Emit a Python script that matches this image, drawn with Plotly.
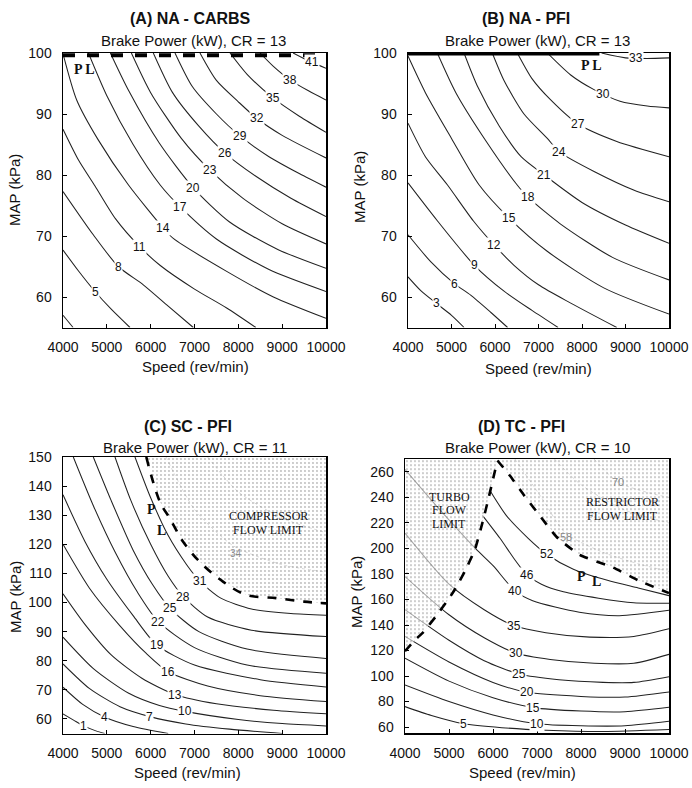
import plotly.graph_objects as go

W, H = 692, 788

# ------------------------- shared axis values -------------------------
SPEED_TICKS = [4000, 5000, 6000, 7000, 8000, 9000, 10000]
SPEED_TICK_TEXT = ["4000", "5000", "6000", "7000", "8000", "9000", "10000"]

# ------------------------- Panel A : NA - CARBS -------------------------
A_levels = [2, 5, 8, 11, 14, 17, 20, 23, 26, 29, 32, 35, 38, 41]
A_line_x = [
    [4000, 4230],
    [4000, 4350, 4730, 5100, 5528],
    [4000, 4691, 5261, 5832, 6400, 6973],
    [4000, 4350, 4730, 5200, 5756, 6212, 7000, 7734, 8400],
    [4007, 4312, 4800, 5490, 6288, 6516, 7734, 8800, 10000],
    [4580, 5000, 5600, 6213, 6669, 7500, 8700, 10000],
    [5080, 5500, 6200, 6972, 7800, 8900, 10000],
    [5560, 6000, 6700, 7353, 8100, 9000, 10000],
    [6060, 6500, 7100, 7695, 8400, 9200, 10000],
    [6555, 6950, 7500, 8037, 8700, 9400, 10000],
    [7125, 7500, 8000, 8418, 9000, 10000],
    [7810, 8200, 8797, 9400, 10000],
    [8494, 8800, 9178, 9600, 10000],
    [9250, 9634, 10000],
]
A_line_y = [
    [57.0, 55.0],
    [67.7, 64.3, 60.9, 58.0, 55.0],
    [77.3, 70.2, 65.0, 62.0, 58.5, 55.0],
    [87.5, 82.5, 78.2, 72.8, 68.2, 65.2, 61.3, 58.2, 55.0],
    [99.7, 92.3, 85.8, 78.4, 71.3, 69.6, 64.2, 60.0, 56.5],
    [100, 93.0, 85.0, 78.4, 74.8, 69.5, 64.5, 60.9],
    [100, 93.8, 85.2, 77.9, 72.3, 67.8, 64.7],
    [100, 93.5, 86.0, 80.8, 76.2, 72.0, 68.7],
    [100, 93.5, 88.0, 83.6, 79.8, 76.2, 73.2],
    [100, 94.5, 90.0, 86.4, 83.0, 80.2, 78.0],
    [100, 95.5, 92.0, 89.3, 86.5, 82.8],
    [100, 96.5, 92.6, 89.6, 87.0],
    [100, 97.8, 95.6, 93.8, 92.3],
    [100, 98.6, 97.5],
]
A_label_text = ["5", "8", "11", "14", "17", "20", "23", "26", "29", "32", "35", "38", "41"]
A_label_x = [4730, 5261, 5756, 6288, 6669, 6972, 7353, 7695, 8037, 8418, 8797, 9178, 9680]
A_label_y = [60.9, 65.0, 68.2, 71.3, 74.8, 77.9, 80.8, 83.6, 86.4, 89.3, 92.6, 95.6, 98.6]

# ------------------------- Panel B : NA - PFI -------------------------
B_levels = [3, 6, 9, 12, 15, 18, 21, 24, 27, 30, 33]
B_line_x = [
    [4000, 4300, 4644, 5000, 5290],
    [4000, 4521, 5065, 5441, 5900, 6290],
    [4000, 4674, 5525, 6200, 6850, 7450],
    [4000, 4400, 4904, 5500, 5984, 6437, 7000, 7741, 8800],
    [4000, 4400, 5000, 5632, 6329, 7200, 8500, 10000],
    [4674, 5100, 5800, 6506, 6751, 7500, 8700, 10000],
    [5288, 5600, 6100, 6600, 7133, 8000, 9000, 10000],
    [5938, 6207, 6667, 7203, 7478, 8300, 9200, 10000],
    [6513, 6850, 7281, 7901, 8800, 10000],
    [7203, 7740, 8276, 8874, 9500, 10000],
    [8450, 9000, 9500, 10000],
]
B_line_y = [
    [63.3, 61.0, 59.0, 57.0, 55.0],
    [70.2, 65.8, 62.2, 60.3, 57.5, 55.0],
    [78.7, 72.5, 65.2, 61.0, 57.8, 55.0],
    [88.5, 83.0, 78.4, 72.5, 68.5, 65.2, 62.0, 59.0, 55.0],
    [99.5, 93.5, 86.0, 78.4, 72.9, 67.5, 61.5, 57.2],
    [100, 93.5, 85.5, 78.4, 76.4, 72.0, 66.5, 62.8],
    [100, 94.5, 88.0, 83.0, 80.0, 75.5, 71.8, 68.8],
    [100, 95.5, 90.0, 86.0, 83.8, 80.5, 77.5, 75.6],
    [100, 95.8, 92.3, 88.4, 85.5, 83.0],
    [100, 96.4, 94.0, 92.1, 91.3, 91.0],
    [100, 99.2, 99.1, 99.2],
]
B_label_text = ["3", "6", "9", "12", "15", "18", "21", "24", "27", "30", "33"]
B_label_x = [4644, 5065, 5525, 5984, 6329, 6751, 7133, 7478, 7901, 8476, 9242]
B_label_y = [59.0, 62.2, 65.2, 68.5, 72.9, 76.4, 80.0, 83.8, 88.4, 93.3, 99.1]

# ------------------------- Panel C : SC - PFI -------------------------
C_levels = [1, 4, 7, 10, 13, 16, 19, 22, 25, 28, 31]
C_line_x = [
    [4000, 4250, 4463, 4750, 4950],
    [4000, 4450, 4958, 5600, 6400],
    [4000, 4600, 5300, 5984, 6800, 7800, 9000],
    [4000, 4700, 5500, 6200, 6783, 8000, 9000, 10000],
    [4000, 4500, 5100, 5800, 6555, 7500, 8800, 10000],
    [4000, 4600, 5300, 5900, 6400, 7300, 8500, 10000],
    [4000, 4500, 5000, 5600, 6137, 7000, 8500, 10000],
    [4235, 4700, 5200, 5700, 6174, 7000, 8200, 10000],
    [4691, 5100, 5600, 6050, 6441, 7100, 8200, 10000],
    [5186, 5550, 6000, 6400, 6744, 7300, 8300, 10000],
    [5642, 6000, 6400, 6821, 7125, 7600, 8300, 9200, 10000],
]
C_line_y = [
    [61.7, 59.5, 57.7, 55.9, 55.0],
    [70.9, 65.0, 60.6, 57.4, 55.0],
    [78.9, 70.5, 64.2, 60.8, 58.3, 56.5, 55.0],
    [88.1, 77.2, 68.8, 64.6, 62.6, 59.8, 58.4, 57.6],
    [103, 92.5, 82.0, 74.0, 68.4, 65.2, 63.0, 61.8],
    [120, 105, 92.0, 82.5, 76.2, 71.3, 68.0, 66.0],
    [137, 121, 108, 95.5, 85.4, 78.5, 73.5, 71.0],
    [150, 133, 117, 103.5, 93.4, 84.5, 78.5, 75.7],
    [150, 135, 118, 106, 98.0, 90.0, 84.0, 80.8],
    [150, 135, 120, 109, 102, 95.0, 90.5, 88.3],
    [150, 136, 123, 113, 107.3, 101.5, 97.8, 96.2, 95.6],
]
C_faint_levels = [34, 37]
C_faint_x = [[6350, 7000, 7884, 9000, 10000], [7300, 8000, 9000, 10000]]
C_faint_y = [[150, 132, 119.5, 113, 110.5], [150, 138, 129, 124]]
C_pl_x = [5900, 6213, 6441, 6745, 7125, 7657, 8190, 8874, 9500, 10000]
C_pl_y = [150, 134.5, 128.8, 120.8, 113.9, 107.1, 102.6, 101.5, 100.3, 99.7]
C_label_text = ["1", "4", "7", "10", "13", "16", "19", "22", "25", "28", "31"]
C_label_x = [4463, 4958, 5984, 6783, 6555, 6400, 6137, 6174, 6441, 6744, 7125]
C_label_y = [57.7, 60.6, 60.8, 62.6, 68.4, 76.2, 85.4, 93.4, 98.0, 102.0, 107.3]

# ------------------------- Panel D : TC - PFI -------------------------
D_levels = [5, 10, 15, 20, 25, 30, 35, 40, 46, 52]
D_line_x = [
    [4000, 4600, 5330, 6200, 7200, 8500, 10000],
    [4000, 5000, 6000, 6990, 8000, 9000, 10000],
    [4000, 5000, 6000, 6910, 8000, 9000, 10000],
    [4000, 5000, 6000, 6770, 8000, 9000, 10000],
    [4000, 5000, 5800, 6600, 7500, 8500, 9200, 10000],
    [4000, 5000, 5800, 6530, 7300, 8300, 9200, 10000],
    [4000, 5000, 5800, 6470, 7200, 8200, 9200, 10000],
    [4000, 4800, 5600, 6007, 6500, 6902, 7962, 8871, 10000],
    [5760, 6159, 6500, 6765, 7100, 7600, 8400, 9200, 10000],
    [5920, 6300, 6800, 7220, 7826, 8600, 9300, 10000],
]
D_line_y = [
    [76, 69, 62.6, 59.5, 57.5, 56.5, 58],
    [93, 80, 69.5, 62.6, 61, 61, 64.5],
    [114, 96, 83, 75.2, 72.5, 72, 75.5],
    [131, 111, 95, 87.2, 84, 83.5, 87.5],
    [152, 128, 112, 101.5, 97, 95, 95, 99.5],
    [178, 148, 130, 117.8, 113, 110, 110, 117],
    [212, 172, 152, 139.6, 134, 130.5, 131, 137],
    [262, 230, 200, 186.3, 166.7, 159, 150, 147.3, 151.5],
    [226, 208, 191, 179.5, 172, 166, 161, 157.5, 157],
    [246, 226, 208, 195.5, 183.7, 175, 169, 163],
]
D_faint_levels = [58, 64, 70]
D_faint_x = [[6500, 7100, 7650, 8500, 9300, 10000], [7400, 8000, 9000, 10000], [8300, 8840, 9500, 10000]]
D_faint_y = [[270, 240, 212, 197, 188, 182], [270, 250, 230, 220], [270, 252, 244, 240]]
D_tfl_x = [4000, 4212, 4417, 4720, 5023, 5136, 5364, 5591, 5780, 5893, 6100]
D_tfl_y = [119.5, 127.7, 134.5, 147.6, 162, 168, 182.4, 199.4, 222.9, 238.6, 269]
D_rfl_x = [6100, 6386, 6700, 7068, 7447, 7970, 8734, 9300, 10000]
D_rfl_y = [269, 257, 242, 225.5, 209, 195, 185, 175, 165]
D_label_text = ["5", "10", "15", "20", "25", "30", "35", "40", "46", "52"]
D_label_x = [5330, 6990, 6910, 6770, 6600, 6530, 6470, 6500, 6765, 7220]
D_label_y = [62.6, 62.6, 75.2, 87.2, 101.5, 117.8, 139.6, 166.7, 179.5, 195.5]
D_faint_label_text = ["58", "70"]
D_faint_label_x = [7650, 8840]
D_faint_label_y = [209, 252.5]

# ------------------------- layout helpers -------------------------
SANS = "Liberation Sans, Arial, sans-serif"
SERIF = "Liberation Serif, Times New Roman, serif"
LINE_COL = "#222222"

fig = go.Figure()

panels = [
    # x axis id, y axis id, x px range, y px range (top,bottom), y range, y dtick
    ("x", "y", (63, 326), (53, 327.5), (55, 100), 10),
    ("x2", "y2", (408, 669), (53, 327.5), (55, 100), 10),
    ("x3", "y3", (63, 326), (457, 733.5), (55, 150), 10),
    ("x4", "y4", (405, 669), (459.2, 733.4), (55, 270), 20),
]

axis_style = dict(
    showgrid=False, zeroline=False, showline=True, mirror=True,
    linecolor="black", linewidth=1.5, ticks="inside", ticklen=4,
    tickcolor="black", tickfont=dict(family=SANS, size=14, color="#111"),
    automargin=False,
)

for xa, ya, (x0, x1), (yt, yb), yr, dt in panels:
    xkey = "xaxis" + xa[1:]
    ykey = "yaxis" + ya[1:]
    fig.layout[xkey] = dict(
        domain=[x0 / W, x1 / W], anchor=ya, range=[4000, 10000],
        tickvals=SPEED_TICKS, ticktext=SPEED_TICK_TEXT,
        ticklabelstandoff=6, **axis_style)
    yt_vals = list(range(60, int(yr[1]) + 1, dt))
    fig.layout[ykey] = dict(
        domain=[1 - yb / H, 1 - yt / H], anchor=xa, range=list(yr),
        tickvals=yt_vals, ticktext=[str(v) for v in yt_vals],
        ticklabelstandoff=7, **axis_style)


def add_lines(xs, ys, xa, ya, color=LINE_COL, width=1.05, dash="solid"):
    for lx, ly in zip(xs, ys):
        fig.add_trace(go.Scatter(
            x=lx, y=ly, xaxis=xa, yaxis=ya, mode="lines",
            line=dict(color=color, width=width, dash=dash, shape="spline", smoothing=0.7),
            hoverinfo="skip", showlegend=False))


def add_labels(texts, xs, ys, xa, ya, bg="white", color="#111", size=12):
    for t, lx, ly in zip(texts, xs, ys):
        fig.add_annotation(
            x=lx, y=ly, xref=xa, yref=ya, text=t, showarrow=False,
            font=dict(family=SANS, size=size, color=color),
            bgcolor=bg, borderpad=0)


def add_region(xs, ys, xa, ya):
    fig.add_trace(go.Scatter(
        x=xs, y=ys, xaxis=xa, yaxis=ya, mode="lines", fill="toself",
        line=dict(width=0), fillcolor="rgba(255,255,255,0.6)",
        fillpattern=dict(shape=".", fgcolor="#777777", size=4, solidity=0.18,
                         fillmode="overlay"),
        hoverinfo="skip", showlegend=False))


# Panel A
add_lines(A_line_x, A_line_y, "x", "y")
fig.add_trace(go.Scatter(x=[4000, 10000], y=[99.65, 99.65], xaxis="x", yaxis="y",
                         mode="lines", line=dict(color="black", width=4, dash="dash"),
                         hoverinfo="skip", showlegend=False))
add_labels(A_label_text, A_label_x, A_label_y, "x", "y")

# Panel B
add_lines(B_line_x, B_line_y, "x2", "y2")
fig.add_trace(go.Scatter(x=[4000, 8400], y=[99.8, 99.8], xaxis="x2", yaxis="y2",
                         mode="lines", line=dict(color="black", width=2.5),
                         hoverinfo="skip", showlegend=False))
add_labels(B_label_text, B_label_x, B_label_y, "x2", "y2")

# Panel C
add_lines(C_line_x, C_line_y, "x3", "y3")
add_lines(C_faint_x, C_faint_y, "x3", "y3", color="#9a9a9a", width=1, dash="dot")
add_region(C_pl_x + [10000, 5900], C_pl_y + [150, 150], "x3", "y3")
fig.add_trace(go.Scatter(x=C_pl_x, y=C_pl_y, xaxis="x3", yaxis="y3", mode="lines",
                         line=dict(color="black", width=2.6, dash="dash", shape="spline"),
                         hoverinfo="skip", showlegend=False))
add_labels(C_label_text, C_label_x, C_label_y, "x3", "y3")
add_labels(["34"], [7950], [117.0], "x3", "y3", bg="rgba(0,0,0,0)", color="#8a8a8a", size=10)

# Panel D
add_lines(D_line_x, D_line_y, "x4", "y4")
add_lines(D_faint_x, D_faint_y, "x4", "y4", color="#9a9a9a", width=1, dash="dot")
add_region(D_tfl_x + [4000], D_tfl_y + [270], "x4", "y4")
add_region(D_rfl_x + [10000, 6100], D_rfl_y + [270, 270], "x4", "y4")
for bx, by in ((D_tfl_x, D_tfl_y), (D_rfl_x, D_rfl_y)):
    fig.add_trace(go.Scatter(x=bx, y=by, xaxis="x4", yaxis="y4", mode="lines",
                             line=dict(color="black", width=2.6, dash="dash", shape="spline",
                                       smoothing=0.5),
                             hoverinfo="skip", showlegend=False))
add_labels(D_label_text, D_label_x, D_label_y, "x4", "y4")
add_labels(D_faint_label_text, D_faint_label_x, D_faint_label_y, "x4", "y4",
           bg="rgba(0,0,0,0)", color="#888", size=11)

# In-plot serif annotations (PL markers and limit regions)
serif_notes = [
    ("<b>P L</b>", "x", "y", 4500, 97.3, 14),
    ("<b>P L</b>", "x2", "y2", 8207, 98.0, 14),
    ("<b>P</b>", "x3", "y3", 6023, 132.1, 14),
    ("<b>L</b>", "x3", "y3", 6251, 124.7, 14),
    ("COMPRESSOR", "x3", "y3", 8683, 129.6, 12),
    ("FLOW LIMIT", "x3", "y3", 8683, 124.8, 12),
    ("TURBO", "x4", "y4", 5007, 240.5, 12),
    ("FLOW", "x4", "y4", 5007, 229.8, 12),
    ("LIMIT", "x4", "y4", 5007, 219.0, 12),
    ("RESTRICTOR", "x4", "y4", 8947, 236.5, 12),
    ("FLOW LIMIT", "x4", "y4", 8947, 225.8, 12),
    ("<b>P</b>", "x4", "y4", 8015, 178.4, 14),
    ("<b>L</b>", "x4", "y4", 8356, 174.5, 14),
]
for t, xa, ya, nx, ny, sz in serif_notes:
    fig.add_annotation(x=nx, y=ny, xref=xa, yref=ya, text=t, showarrow=False,
                       font=dict(family=SERIF, size=sz, color="#111"))

# Titles / axis titles, positioned in pixels of the page
page_texts = [
    ("<b>(A) NA - CARBS</b>", 190, 18, 16, 0),
    ("Brake Power (kW), CR = 13", 193, 40, 15, 0),
    ("<b>(B) NA - PFI</b>", 526, 18, 16, 0),
    ("Brake Power (kW), CR = 13", 537, 40, 15, 0),
    ("<b>(C) SC - PFI</b>", 188, 426, 16, 0),
    ("Brake Power (kW), CR = 11", 195, 447, 15, 0),
    ("<b>(D) TC - PFI</b>", 521, 426, 16, 0),
    ("Brake Power (kW), CR = 10", 537, 447, 15, 0),
    ("Speed (rev/min)", 195, 366, 15, 0),
    ("Speed (rev/min)", 538, 368, 15, 0),
    ("Speed (rev/min)", 188, 772, 15, 0),
    ("Speed (rev/min)", 522, 772, 15, 0),
    ("MAP (kPa)", 14, 190, 15, -90),
    ("MAP (kPa)", 359, 187, 15, -90),
    ("MAP (kPa)", 15, 597, 15, -90),
    ("MAP (kPa)", 356, 592, 15, -90),
]
for t, px, py, sz, ang in page_texts:
    fig.add_annotation(x=px / W, y=1 - py / H, xref="paper", yref="paper", text=t,
                       showarrow=False, textangle=ang, xanchor="center", yanchor="middle",
                       font=dict(family=SANS, size=sz, color="#111"))

fig.update_layout(width=W, height=H,
                  margin=dict(l=0, r=0, t=0, b=0, pad=0, autoexpand=False),
                  paper_bgcolor="white", plot_bgcolor="white", showlegend=False)

# the page's default 8px body margin would shift the fixed-size figure; remove it
fig.write_html("out.html",
               config={"displayModeBar": False, "staticPlot": True},
               post_script="document.body.style.margin='0';document.body.style.overflow='hidden';")
